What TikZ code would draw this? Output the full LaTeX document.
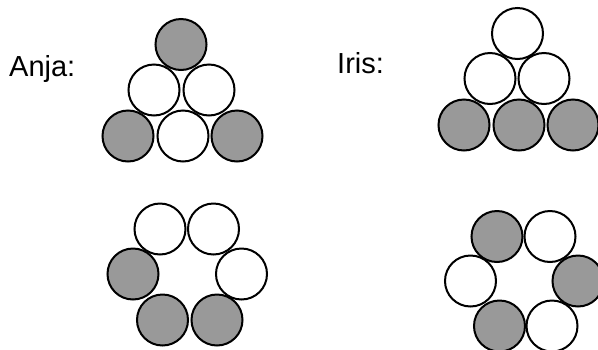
\documentclass[tikz,border=0pt]{standalone}
\usepackage{fontspec}
\setmainfont{Liberation Sans}
\begin{document}
\begin{tikzpicture}[x=1pt,y=-1pt,
  ball/.style={circle,draw=black,line width=2pt,minimum size=51pt,inner sep=0pt},
  light/.style={ball,fill=white},
  dark/.style={ball,fill=black!40},
  label/.style={anchor=base west,inner sep=0pt,font=\fontsize{29}{34}\selectfont}]
\useasboundingbox (0,0) rectangle (598,349);

% names
\node[label] (anja) at (9,76) {Anja:};
\node[label] (iris) at (337,73) {Iris:};

% Anja: triangle
\node[dark]  (at1) at (181,44.5) {};
\node[light] (at2) at (154,90) {};
\node[light] (at3) at (209,90) {};
\node[dark]  (at4) at (128,136) {};
\node[light] (at5) at (183,136) {};
\node[dark]  (at6) at (237,136) {};

% Iris: triangle
\node[light] (it1) at (517.5,33.5) {};
\node[light] (it2) at (490,78.5) {};
\node[light] (it3) at (544,78.5) {};
\node[dark]  (it4) at (464,125) {};
\node[dark]  (it5) at (519,125) {};
\node[dark]  (it6) at (573,125) {};

% Anja: ring
\node[light] (ar1) at (160,229) {};
\node[light] (ar2) at (213.5,229) {};
\node[dark]  (ar3) at (133,274) {};
\node[light] (ar4) at (241.5,274) {};
\node[dark]  (ar5) at (162.5,320) {};
\node[dark]  (ar6) at (217,320) {};

% Iris: ring
\node[dark]  (ir1) at (497,236.5) {};
\node[light] (ir2) at (550,236.5) {};
\node[light] (ir3) at (470.5,281) {};
\node[dark]  (ir4) at (578,281) {};
\node[dark]  (ir5) at (499.5,326) {};
\node[light] (ir6) at (552,326) {};
\end{tikzpicture}
\end{document}
